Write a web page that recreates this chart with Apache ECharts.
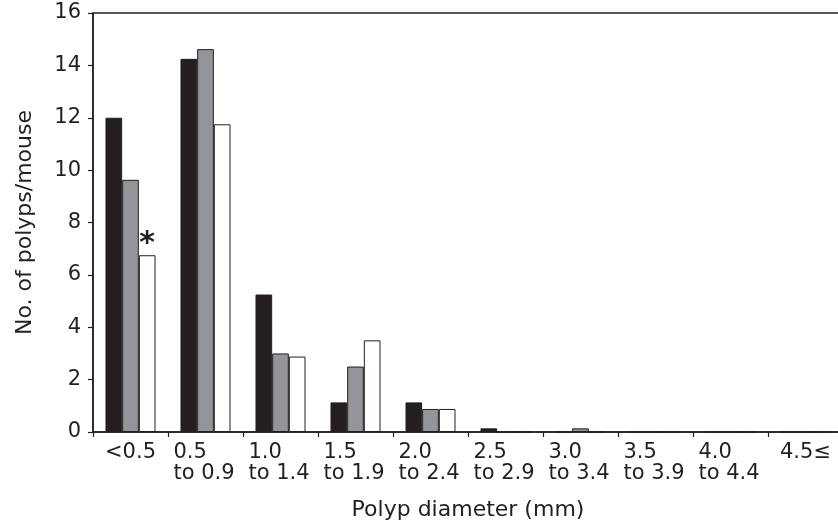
<!DOCTYPE html>
<html>
<head>
<meta charset="utf-8">
<script src="https://cdn.jsdelivr.net/npm/echarts@6/dist/echarts.min.js"></script>
<style>
html,body{margin:0;padding:0;background:#fff;}
#chart{width:838px;height:529px;}
</style>
</head>
<body>
<div id="chart"></div>
<script>
const categories = ['<0.5', '0.5\nto 0.9', '1.0\nto 1.4', '1.5\nto 1.9', '2.0\nto 2.4', '2.5\nto 2.9', '3.0\nto 3.4', '3.5\nto 3.9', '4.0\nto 4.4', '4.5≤'];
const blackSeries = [12.0, 14.25, 5.25, 1.13, 1.13, 0.14, 0, 0, 0, 0];
const graySeries = [9.63, 14.62, 3.0, 2.5, 0.88, 0, 0.14, 0, 0, 0];
const whiteSeries = [6.75, 11.75, 2.88, 3.5, 0.88, 0, 0, 0, 0, 0];
const yTicks = { min: 0, max: 16, interval: 2 };
const starIndex = 0;

const ink = '#231f20';
const font = 'DejaVu Sans';

const whiteData = whiteSeries.map((v, i) => i === starIndex ? {
  value: v,
  label: { show: true, position: 'top', formatter: '*', fontSize: 30, fontWeight: 'bold', fontFamily: font, color: ink, distance: -4 }
} : v);

const chart = echarts.init(document.getElementById('chart'), null, { renderer: 'canvas' });
chart.setOption({
  animation: false,
  backgroundColor: '#fff',
  grid: { left: 93, top: 13, width: 750, height: 419, show: true, borderColor: ink, borderWidth: 1.5, outerBoundsMode: 'none', containLabel: false },
  xAxis: {
    type: 'category',
    data: categories,
    name: 'Polyp diameter (mm)',
    nameLocation: 'middle',
    nameGap: 67,
    nameTextStyle: { fontSize: 22, fontFamily: font, color: ink },
    axisLine: { show: true, lineStyle: { color: ink, width: 1.5 } },
    axisTick: { show: true, length: 5, alignWithLabel: false, lineStyle: { color: ink, width: 1.2 } },
    axisLabel: {
      interval: 0,
      margin: 10,
      fontSize: 21,
      lineHeight: 21,
      fontFamily: font,
      color: ink,
      formatter: function (v) {
        if (v.indexOf('\n') < 0) return v;
        return v.split('\n').map(s => '{a|' + s + '}').join('\n');
      },
      rich: { a: { width: 64, align: 'left', fontSize: 21, lineHeight: 21, fontFamily: font, color: ink } }
    },
    splitLine: { show: false }
  },
  yAxis: {
    type: 'value',
    min: yTicks.min, max: yTicks.max, interval: yTicks.interval,
    name: 'No. of polyps/mouse',
    nameLocation: 'middle',
    nameGap: 57,
    nameTextStyle: { fontSize: 22, fontFamily: font, color: ink },
    axisLine: { show: true, lineStyle: { color: ink, width: 1.5 } },
    axisTick: { show: true, length: 5, lineStyle: { color: ink, width: 1.2 } },
    axisLabel: { margin: 12, fontSize: 21, fontFamily: font, color: ink },
    splitLine: { show: false }
  },
  series: [
    { type: 'bar', data: blackSeries, barGap: '0%', barCategoryGap: '33.3%', itemStyle: { color: ink, borderColor: ink, borderWidth: 1 } },
    { type: 'bar', data: graySeries, barGap: '0%', barCategoryGap: '33.3%', itemStyle: { color: '#939598', borderColor: ink, borderWidth: 1 } },
    { type: 'bar', data: whiteData, barGap: '0%', barCategoryGap: '33.3%', itemStyle: { color: '#ffffff', borderColor: ink, borderWidth: 1 } }
  ]
});
</script>
</body>
</html>
